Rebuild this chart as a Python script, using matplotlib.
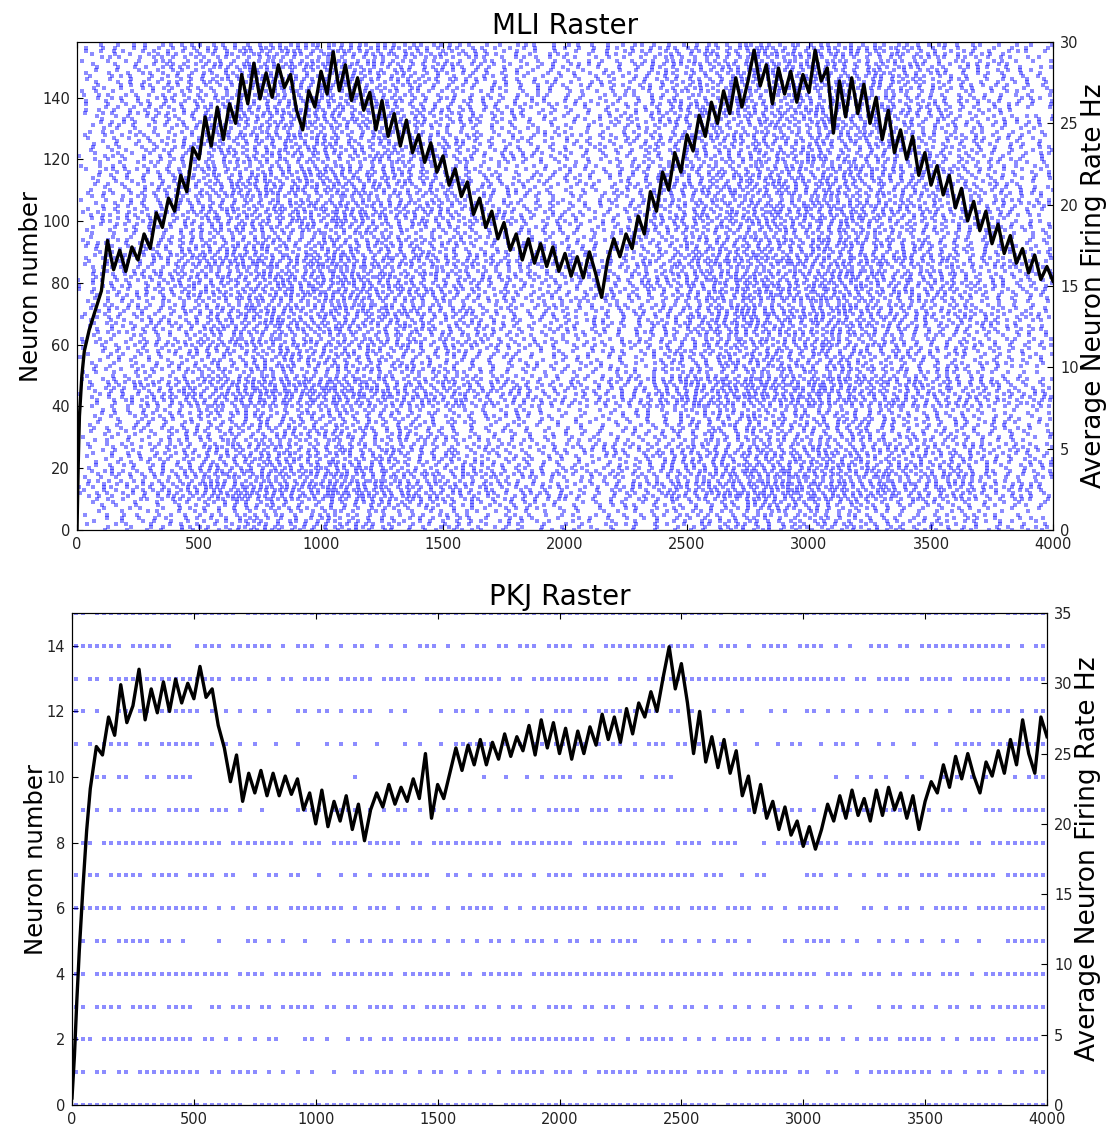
import numpy as np
import matplotlib
matplotlib.use("Agg")
import matplotlib.pyplot as plt

# ---------------------------------------------------------------------------
# Population firing rate (Hz) of the MLI network, sampled in ms
# ---------------------------------------------------------------------------
mli_rate_t = [0, 5, 10, 20, 30, 50, 75, 100] + list(range(125, 4001, 25))
mli_rate_hz = [
    0.0, 4.0, 7.0, 9.5, 11.0, 12.3, 13.5, 14.7,
    17.8, 16.0, 17.2, 15.9, 17.4, 16.6, 18.2, 17.3,
    19.5, 18.6, 20.4, 19.6, 21.8, 20.8, 23.5, 22.8,
    25.4, 23.6, 26.0, 24.0, 26.2, 25.0, 28.0, 26.2,
    28.7, 26.5, 28.1, 26.6, 28.6, 27.2, 28.0, 25.8,
    24.6, 27.0, 26.0, 28.2, 26.8, 29.4, 27.0, 28.6,
    26.4, 27.8, 25.8, 26.9, 24.6, 26.4, 24.2, 25.6,
    23.6, 25.2, 23.2, 24.3, 22.6, 23.8, 22.0, 23.0,
    21.2, 22.2, 20.5, 21.4, 19.4, 20.4, 18.6, 19.6,
    17.9, 18.9, 17.2, 18.2, 16.6, 17.9, 16.4, 17.6,
    16.2, 17.4, 15.9, 17.0, 15.6, 16.8, 15.5, 17.1,
    15.8, 14.3, 16.6, 17.9, 16.8, 18.2, 17.3, 19.3,
    18.2, 20.8, 19.6, 22.0, 20.9, 23.2, 22.0, 24.3,
    23.3, 25.5, 24.2, 26.3, 25.0, 27.0, 25.6, 27.8,
    26.0, 27.6, 29.5, 27.3, 28.6, 26.2, 28.4, 26.8,
    28.2, 26.3, 28.0, 26.9, 29.5, 27.6, 28.4, 24.4,
    27.6, 25.4, 27.8, 25.6, 27.4, 25.0, 26.6, 24.0,
    25.8, 23.2, 24.6, 22.8, 24.2, 21.8, 23.2, 21.2,
    22.4, 20.6, 21.8, 19.8, 21.0, 19.0, 20.2, 18.4,
    19.6, 17.6, 18.8, 17.0, 18.1, 16.4, 17.3, 15.8,
    16.9, 15.4, 16.2, 15.3,
]

# Population firing rate (Hz) of the PKJ cells, sampled in ms
pkj_rate_t = [0, 10, 20, 30, 45, 60, 75] + list(range(100, 4001, 25))
pkj_rate_hz = [
    0.5, 3.5, 7.5, 11.0, 15.5, 19.5, 22.5,
    25.5, 24.9, 27.6, 26.3, 29.9, 27.2, 28.4, 31.0,
    27.4, 29.6, 27.9, 30.1, 28.0, 30.3, 28.6, 30.0,
    28.9, 31.2, 29.0, 29.6, 27.0, 25.4, 23.0, 24.9,
    21.6, 23.6, 22.2, 23.8, 22.0, 23.6, 22.0, 23.4,
    22.1, 23.2, 21.0, 22.2, 20.0, 22.4, 19.8, 21.6,
    20.2, 22.0, 19.6, 21.4, 18.8, 21.0, 22.2, 21.2,
    22.8, 21.4, 22.6, 21.6, 23.2, 21.8, 25.0, 20.4,
    22.8, 21.8, 23.6, 25.4, 23.8, 25.6, 24.2, 26.0,
    24.2, 25.8, 24.6, 26.4, 24.8, 26.2, 25.2, 27.0,
    24.9, 27.4, 25.4, 27.2, 25.0, 26.8, 24.6, 26.6,
    25.0, 26.9, 25.6, 27.8, 26.0, 27.6, 25.8, 28.2,
    26.4, 28.6, 27.6, 29.4, 28.0, 30.4, 32.6, 29.6,
    31.4, 28.6, 25.0, 28.0, 24.4, 26.2, 24.0, 26.0,
    23.6, 25.2, 22.0, 23.4, 20.8, 22.8, 20.4, 21.6,
    19.6, 21.2, 19.2, 20.2, 18.4, 19.8, 18.2, 19.6,
    21.4, 20.2, 22.0, 20.4, 22.4, 20.6, 21.8, 20.2,
    22.4, 20.6, 22.6, 21.0, 22.2, 20.4, 22.0, 19.6,
    21.6, 23.0, 22.2, 24.2, 22.6, 24.8, 23.2, 25.0,
    23.4, 22.2, 24.4, 23.4, 25.2, 23.6, 26.0, 24.2,
    27.4, 25.0, 23.6, 27.6, 26.2,
]

# Relative excitability of each block of ten MLI cells (cells 0-9, 10-19, ...)
mli_band_gain = [0.80, 1.20, 1.00, 0.85, 1.20, 0.90, 1.05, 1.10,
                 1.15, 1.00, 1.05, 1.00, 0.95, 0.95, 0.95, 1.00]
mli_cell_count = 158

# PKJ spike trains: one row per cell (0 at the bottom), eight 500 ms
# windows per row, '#' marks a spike in that slot of the window.
pkj_spikes = [
    ["#################", "#######.#########", "#################", "########.########",
     "#################", "#####.###########", "#################", "###########.#####"],
    ["##.##.##.########", "#.##.####.#.#.#.#", "..#..##.###.#.#.#", "#.#.#.#.#.#####.#",
     "##.#.######.#####", "#.####.#.######.#", "#..##..#.########", "#.##.#.##.#.##.##"],
    ["###.#############", ".##.#.#.#.##...##", ".#..#.##.##.#####", "###.#####.#######",
     "#####.##.#.#####.", "#.#.#.####.#.#.##", "#.##.#.#.###.####", "#.#.#.####.#####."],
    ["##.####.####.####", "..##.###.##.#####", ".##.##.####.##.##", "####.##.#.##.#.##",
     "##.##.##.#.#.#.#.", "##.#.#.#.#.#.#.#.", "#.#.#.#...#.##.##", ".#.##.##.########"],
    ["##.##############", "#####.####.######", "#.#########.#####", "##.##.######.####",
     "#################", "######.##########", "##.####.###.##.##", "#.###.#.#########"],
    [".#.##.#####.##.#.", "...#...##.#.#..#.", "..#.#.##.##.###.#", ".#.#.#.##.#.###.#",
     ".##.##.####...##.", "#.#.#.##.#....##.", "####.#.#..#.#.#.#", "..#.#..#...######"],
    ["#######.#########", "##.#.#.##.##.####", "####.#.###.#.##.#", ".#.#####.#.#.####",
     "####.#######.####", ".####.####.##.#.#", "#####...##.#.##.#", ".#####.##########"],
    ["#.##.#####.####.#", "###.##..#.##.##..", "#..#.#.#.#######.", ".##.#.##.###.#.##",
     "##.##############", "##.###..#.##.....", "###.#.#.#.##.##.#", "##.#######.######"],
    [".##.#############", "####.#########.##", "#.####.#####.##.#", "#########.#######",
     "##.############.#", "###.####...#.####", "#.###.####.######", "#####.##.########"],
    [".#.#.##.####.####", "#.###.#..#....###", "#.####.#.#.##.#.#", ".##.#.#.#.##.#.##",
     "###.###.####.##.#", "##.#.#.#.#.#.#.##", ".#.#.##.##.###.#.", "#.##.#..###.#####"],
    ["...##.##..##.####", ".................", ".....#...........", "......#..#..#.#.#",
     "##.##.###..#.###.", ".................", "....#..#.#.#..#.#", "..#.#.#.#...#.###"],
    ["#.#.####.##.#####", "#.#.#.#.#..#..#..", ".#.#.#..#...#.#..", "#.######.#.#.##.#",
     "#.##.#.##.#.###.#", "#.#..#.#..#..#.##", "..#.##.#..#.#..#.", ".#..####.########"],
    ["##.#..##.##.#####", "#.#.#.#.#.#...##.", "##.#.###..#.#....", "#.##.#.#.##.#.#.#",
     "##.#.####.#.##.##", ".#..#.#.#...#.#..", "##.#.#.#.#.#..###", ".#.#..##.###.#.##"],
    ["#.##.############", "####.####.#.##.##", "##.#####.#####.##", "#########.##.####",
     "#######.###.#####", "#################", "######.##.#####.#", "####.#######.####"],
    ["#######.######...", "####.######.#.###", ".#.#.##.#.#.#.###", ".#.#.##.##.###.##",
     "##.##.###########", "##.#.###.#.####.#", "###.#.#..###.##.#", "############.#.##"],
    ["##.##############", "######.##########", "#################", "####.############",
     "#################", "######.##########", "#################", "##########.######"],
]
window_ms = 500
t_end = 4000

RASTER_COLOR = (0.0, 0.0, 1.0)


def mli_raster():
    """Integrate-and-fire cells driven by the population rate.

    Every cell integrates the population rate scaled by its block
    excitability and fires when the integral reaches its next threshold.
    Threshold spacing and starting phase follow quadratic Weyl sequences,
    so inter-spike intervals scatter around the mean and rows do not lock.
    """
    t = np.arange(0.0, t_end, 1.0)
    rate = np.interp(t, mli_rate_t, mli_rate_hz)
    drive = np.cumsum(rate) / 1000.0
    a1, a2, a3, a4 = 0.6180339887, 0.7548776662, 0.4142135624, 0.5698402910
    xs, ys = [], []
    for cell in range(mli_cell_count):
        gain = mli_band_gain[cell // 10]
        d = drive * gain
        n = int(d[-1]) + 4
        j = np.arange(1, n + 1)
        u = (j * j * a3 + j * cell * cell * a2 + cell * a1) % 1.0
        spacing = 1.0 + 0.95 * (u - 0.5)
        phase = (cell * cell * a4 + cell * a3) % 1.0
        thresholds = phase + np.cumsum(spacing) - 1.0
        idx = np.searchsorted(d, thresholds)
        idx = idx[(idx > 0) & (idx < t.size)]
        xs.append(t[idx])
        ys.append(np.full(idx.size, cell))
    return np.concatenate(xs), np.concatenate(ys)


def pkj_raster():
    xs, ys = [], []
    for cell, windows in enumerate(pkj_spikes):
        for w, pattern in enumerate(windows):
            slot = window_ms / len(pattern)
            for k, ch in enumerate(pattern):
                if ch == "#":
                    xs.append(w * window_ms + (k + 0.5) * slot)
                    ys.append(cell)
    return np.array(xs), np.array(ys)


fig = plt.figure(figsize=(11.13, 11.27), dpi=100)
W, H = 1113.0, 1127.0

ax_top = fig.add_axes([77 / W, 1 - 530 / H, (1053 - 77) / W, (530 - 42) / H])
ax_bot = fig.add_axes([72 / W, 1 - 1105 / H, (1047 - 72) / W, (1105 - 613) / H])

panels = [
    (ax_top, "MLI Raster", mli_raster(), (0, mli_cell_count), np.arange(0, 141, 20),
     mli_rate_t, mli_rate_hz, (0, 30), np.arange(0, 31, 5), 2.3),
    (ax_bot, "PKJ Raster", pkj_raster(), (0, 15), np.arange(0, 15, 2),
     pkj_rate_t, pkj_rate_hz, (0, 35), np.arange(0, 36, 5), 2.6),
]

for ax, title, (sx, sy), ylim, yticks, rt, rv, rlim, rticks, msize in panels:
    ax.plot(sx, sy, linestyle="none", marker="s", markersize=msize,
            markeredgewidth=0, color=RASTER_COLOR, alpha=0.45)
    ax.set_xlim(0, t_end)
    ax.set_ylim(*ylim)
    ax.set_xticks(np.arange(0, t_end + 1, 500))
    ax.set_yticks(yticks)
    ax.tick_params(direction="in", top=True, length=4, labelsize=10.5,
                   labelcolor="#222222", pad=5)
    ax.set_ylabel("Neuron number", fontsize=17.5, labelpad=-1)
    ax.set_title(title, fontsize=20, pad=6)

    axr = ax.twinx()
    axr.plot(rt, rv, color="black", linewidth=2.4)
    axr.set_ylim(*rlim)
    axr.set_yticks(rticks)
    axr.tick_params(direction="in", length=4, labelsize=10.5,
                    labelcolor="#222222", pad=5)
    axr.set_ylabel("Average Neuron Firing Rate Hz", fontsize=19, labelpad=2)
    axr.set_xlim(0, t_end)

fig.savefig("out.png", dpi=100, facecolor="white")
